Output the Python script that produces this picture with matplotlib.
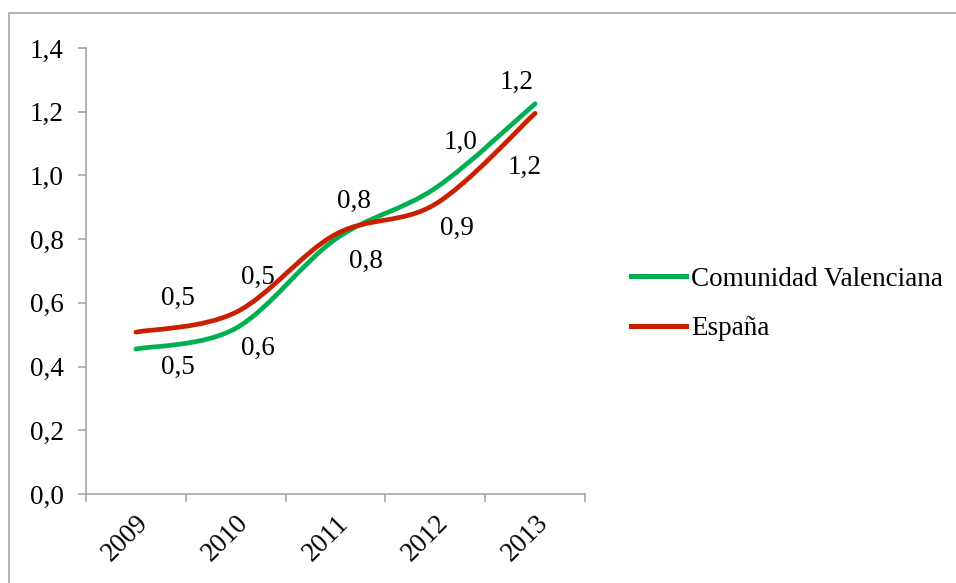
import matplotlib
matplotlib.use('Agg')
from matplotlib import pyplot as plt, rcParams
from matplotlib.path import Path
from matplotlib.patches import PathPatch, Rectangle
from matplotlib.lines import Line2D

rcParams['font.family'] = ['Liberation Serif', 'DejaVu Serif']

years = ['2009', '2010', '2011', '2012', '2013']
valenciana = [0.455, 0.52, 0.80, 0.96, 1.225]
espana = [0.508, 0.57, 0.815, 0.91, 1.195]
yticks = [0.0, 0.2, 0.4, 0.6, 0.8, 1.0, 1.2, 1.4]

# desplazamientos (px) de las etiquetas de datos
off_val = [(42, 51), (22, 51), (18, 38), (25, 46), (-18, 21)]
off_esp = [(42, -35), (22, -36), (30, -27), (22, -24), (-10, -54)]

GREEN = '#00b050'
RED = '#c82000'
GREY = '#a6a6a6'


def smooth_path(xs, ys):
    # curva suavizada tipo Excel (Bezier cubica por tramos)
    pts = list(zip(xs, ys))
    n = len(pts)
    verts = [pts[0]]
    codes = [Path.MOVETO]
    for i in range(n - 1):
        p0 = pts[i - 1] if i > 0 else pts[i]
        p1 = pts[i]
        p2 = pts[i + 1]
        p3 = pts[i + 2] if i + 2 < n else pts[i + 1]
        c1 = (p1[0] + (p2[0] - p0[0]) / 6, p1[1] + (p2[1] - p0[1]) / 6)
        c2 = (p2[0] - (p3[0] - p1[0]) / 6, p2[1] - (p3[1] - p1[1]) / 6)
        verts += [c1, c2, p2]
        codes += [Path.CURVE4] * 3
    return Path(verts, codes)


fig = plt.figure(figsize=(9.56, 5.83), dpi=100)
# marco del grafico (sale por la derecha y por abajo)
fig.patches.append(Rectangle((9 / 956, -10 / 583), 960 / 956, 580 / 583,
                             transform=fig.transFigure, fill=False,
                             edgecolor=GREY, linewidth=1.2))
ax = fig.add_axes([86 / 956, 89 / 583, 499 / 956, 446 / 583])

x = list(range(len(years)))
for vals, color in [(valenciana, GREEN), (espana, RED)]:
    ax.add_patch(PathPatch(smooth_path(x, vals), facecolor='none',
                           edgecolor=color, linewidth=3.4, capstyle='round'))

for i in x:
    ax.annotate('{:.1f}'.format(valenciana[i]).replace('.', ','), (i, valenciana[i]),
                xytext=(off_val[i][0] * 0.72, off_val[i][1] * 0.72), textcoords='offset points',
                ha='center', va='center', fontsize=19.5)
    ax.annotate('{:.1f}'.format(espana[i]).replace('.', ','), (i, espana[i]),
                xytext=(off_esp[i][0] * 0.72, off_esp[i][1] * 0.72), textcoords='offset points',
                ha='center', va='center', fontsize=19.5)

ax.set_xlim(-0.5, len(years) - 0.5)
ax.set_ylim(0, 1.4)
ax.set_yticks(yticks)
ax.set_yticklabels(['{:.1f}'.format(v).replace('.', ',') for v in yticks], fontsize=19.5)
ax.set_xticks(x)
ax.set_xticklabels(years, rotation=45, fontsize=19.5, ha='right', va='top',
                   rotation_mode='anchor')
ax.set_xticks([i - 0.5 for i in range(len(years) + 1)], minor=True)
ax.tick_params(axis='x', which='major', length=0, pad=12)
ax.tick_params(axis='x', which='minor', length=6, color=GREY, width=1.2, direction='out')
ax.tick_params(axis='y', length=6, color=GREY, width=1.2, pad=10)
for s in ['top', 'right']:
    ax.spines[s].set_visible(False)
for s in ['left', 'bottom']:
    ax.spines[s].set_color(GREY)
    ax.spines[s].set_linewidth(1.2)

handles = [Line2D([], [], color=GREEN, linewidth=3.6),
           Line2D([], [], color=RED, linewidth=3.6)]
fig.legend(handles, ['Comunidad Valenciana', 'España'], loc='center left',
           bbox_to_anchor=(607 / 956, 1 - 304 / 583), frameon=False, fontsize=19.5,
           handlelength=2.0, handletextpad=0.2, labelspacing=0.9)

plt.savefig('out.png', dpi=100)
